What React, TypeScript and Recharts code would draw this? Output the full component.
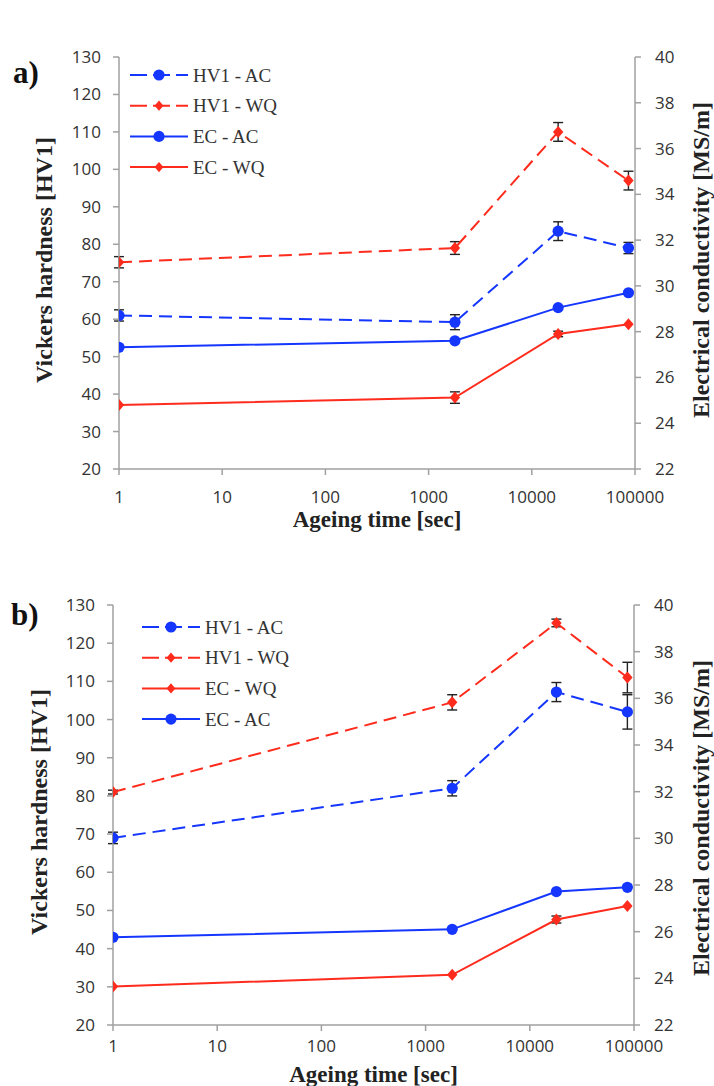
import React from 'react'
import { ErrorBar, Legend, Line, LineChart, XAxis, YAxis } from 'recharts'

// ageing times [sec]
const times = [1, 1800, 18000, 86400]
const xTicks = [1, 10, 100, 1000, 10000, 100000]
const hvTicks = [20, 30, 40, 50, 60, 70, 80, 90, 100, 110, 120, 130]
const ecTicks = [22, 24, 26, 28, 30, 32, 34, 36, 38, 40]

// panel a)
const hvAcA = [61, 59.2, 83.5, 79]
const hvAcErrA = [1.5, 2, 2.5, 1.5]
const hvWqA = [75.2, 79, 110, 97]
const hvWqErrA = [1.5, 1.7, 2.5, 2.5]
const ecAcA = [27.32, 27.6, 29.05, 29.7]
const ecAcErrA = [0, 0, 0, 0]
const ecWqA = [24.8, 25.12, 27.9, 28.32]
const ecWqErrA = [0, 0.25, 0.12, 0]

// panel b)
const hvAcB = [69, 82, 107.2, 102]
const hvAcErrB = [1.5, 2, 2.5, 4.5]
const hvWqB = [81, 104.5, 125.3, 111]
const hvWqErrB = [0.5, 2, 1, 4]
const ecWqB = [23.65, 24.15, 26.52, 27.1]
const ecWqErrB = [0, 0, 0.15, 0]
const ecAcB = [25.76, 26.1, 27.72, 27.9]
const ecAcErrB = [0, 0, 0, 0]

const BLUE = '#1536ff'
const RED = '#ff2b1c'
const AXIS = '#a0a0a0'
const SANS = '"Open Sans", "Noto Sans", sans-serif'
const SERIF = '"Liberation Serif", "DejaVu Serif", serif'

const seriesStyle: Record<string, { color: string; dashed: boolean; shape: 'circle' | 'diamond' }> = {
  hvAc: { color: BLUE, dashed: true, shape: 'circle' },
  hvWq: { color: RED, dashed: true, shape: 'diamond' },
  ecAc: { color: BLUE, dashed: false, shape: 'circle' },
  ecWq: { color: RED, dashed: false, shape: 'diamond' },
}

const names: Record<string, string> = {
  hvAc: 'HV1 - AC',
  hvWq: 'HV1 - WQ',
  ecAc: 'EC - AC',
  ecWq: 'EC - WQ',
}

function buildRows(hvAc: number[], hvAcErr: number[], hvWq: number[], hvWqErr: number[],
  ecAc: number[], ecAcErr: number[], ecWq: number[], ecWqErr: number[]) {
  return times.map((t, i) => ({
    t,
    hvAc: hvAc[i], hvAcErr: hvAcErr[i],
    hvWq: hvWq[i], hvWqErr: hvWqErr[i],
    ecAc: ecAc[i], ecAcErr: ecAcErr[i],
    ecWq: ecWq[i], ecWqErr: ecWqErr[i],
  }))
}

const rowsA = buildRows(hvAcA, hvAcErrA, hvWqA, hvWqErrA, ecAcA, ecAcErrA, ecWqA, ecWqErrA)
const rowsB = buildRows(hvAcB, hvAcErrB, hvWqB, hvWqErrB, ecAcB, ecAcErrB, ecWqB, ecWqErrB)

function Marker({ cx, cy, shape, color, size = 1 }: any) {
  if (shape === 'circle') return <circle cx={cx} cy={cy} r={5.6 * size} fill={color} />
  const w = 5.2 * size
  const h = 6 * size
  return <path d={`M${cx},${cy - h}L${cx + w},${cy}L${cx},${cy + h}L${cx - w},${cy}Z`} fill={color} />
}

const makeDot = (key: string) => (props: any) => {
  const s = seriesStyle[key]
  if (props.cx == null || props.cy == null) return <g key={`${key}-${props.index}`} />
  return (
    <g key={`${key}-${props.index}`}>
      <Marker cx={props.cx} cy={props.cy} shape={s.shape} color={s.color} />
    </g>
  )
}

// legend keeps the series order of each panel
const makeLegend = (order: string[]) => (props: any) => {
  const payload = [...(props.payload || [])].sort(
    (a: any, b: any) => order.indexOf(a.dataKey) - order.indexOf(b.dataKey))
  return (
    <svg width={200} height={135} style={{ display: 'block' }}>
      {payload.map((entry: any, i: number) => {
        const s = seriesStyle[entry.dataKey]
        const y = 12 + i * 30.7
        return (
          <g key={entry.dataKey}>
            <line x1={0} x2={58} y1={y} y2={y} stroke={s.color} strokeWidth={2}
              strokeDasharray={s.dashed ? '17 6' : undefined} />
            <Marker cx={29} cy={y} shape={s.shape} color={s.color} size={s.shape === 'circle' ? 1 : 0.85} />
            <text x={63} y={y} dy="0.35em" fontFamily={SERIF} fontSize={19} fill="#333">{entry.value}</text>
          </g>
        )
      })}
    </svg>
  )
}

interface PanelProps {
  rows: ReturnType<typeof buildRows>
  tag: string
  order: string[]
  height: number
  leftW: number
  rightW: number
  xAxisH: number
  xTickMargin: number
  legendPos: { left: number; top: number }
  leftTitle: { x: number; y: number }
  rightTitle: { x: number; y: number }
  xTitleY: number
  tagPos: { x: number; y: number }
}

function Panel(p: PanelProps) {
  const tickStyle = { fill: '#333', fontSize: 17, fontFamily: SANS }
  const axisLine = { stroke: AXIS, strokeWidth: 1.5 }
  return (
    <LineChart width={714} height={p.height} data={p.rows} margin={{ top: 57, right: 0, bottom: 0, left: 0 }}>
      <XAxis dataKey="t" type="number" scale="log" domain={[1, 100000]} ticks={xTicks} allowDataOverflow
        height={p.xAxisH} tick={tickStyle} tickSize={6} tickMargin={p.xTickMargin}
        axisLine={axisLine} tickLine={axisLine}
        label={() => (
          <g>
            <text x={(p.leftW + 714 - p.rightW) / 2} y={p.xTitleY} dy="0.35em" textAnchor="middle"
              fontFamily={SERIF} fontWeight="bold" fontSize={23} fill="#222">Ageing time [sec]</text>
            <text x={p.tagPos.x} y={p.tagPos.y} dy="0.35em" fontFamily={SERIF} fontWeight="bold"
              fontSize={31} fill="#111">{p.tag}</text>
          </g>
        )} />
      <XAxis xAxisId="top" orientation="top" dataKey="t" type="number" scale="log" domain={[1, 100000]}
        ticks={xTicks} allowDataOverflow height={0} tick={() => <g />} tickSize={6}
        axisLine={axisLine} tickLine={axisLine} />
      <YAxis yAxisId="hv" domain={[20, 130]} ticks={hvTicks} width={p.leftW} tick={tickStyle}
        tickSize={6} tickMargin={12} axisLine={axisLine} tickLine={axisLine} allowDataOverflow
        label={() => (
          <text x={p.leftTitle.x} y={p.leftTitle.y} dy="0.35em" textAnchor="middle"
            transform={`rotate(-90 ${p.leftTitle.x} ${p.leftTitle.y})`} fontFamily={SERIF}
            fontWeight="bold" fontSize={24} fill="#222">Vickers hardness [HV1]</text>
        )} />
      <YAxis yAxisId="ec" orientation="right" domain={[22, 40]} ticks={ecTicks} width={p.rightW}
        tick={tickStyle} tickSize={6} tickMargin={14} axisLine={axisLine} tickLine={axisLine} allowDataOverflow
        label={() => (
          <text x={p.rightTitle.x} y={p.rightTitle.y} dy="0.35em" textAnchor="middle"
            transform={`rotate(-90 ${p.rightTitle.x} ${p.rightTitle.y})`} fontFamily={SERIF}
            fontWeight="bold" fontSize={24} fill="#222">Electrical conductivity [MS/m]</text>
        )} />
      <Legend layout="vertical" align="center" verticalAlign="middle" content={makeLegend(p.order)}
        wrapperStyle={{ left: p.legendPos.left, top: p.legendPos.top, width: 200, height: 135 }} />
      {p.order.map((key) => {
        const s = seriesStyle[key]
        return (
          <Line key={key} yAxisId={key.startsWith('hv') ? 'hv' : 'ec'} dataKey={key} name={names[key]}
            type="linear" stroke={s.color} strokeWidth={2} strokeDasharray={s.dashed ? '13 7' : undefined}
            dot={makeDot(key)} activeDot={false} legendType="line" isAnimationActive={false}>
            <ErrorBar dataKey={`${key}Err`} direction="y" width={5} stroke="#222" strokeWidth={1.4} />
          </Line>
        )
      })}
    </LineChart>
  )
}

export default function App() {
  return (
    <div style={{ position: 'absolute', left: 0, top: 0, width: 714, height: 1086, background: '#fff', overflow: 'hidden' }}>
      <div style={{ position: 'absolute', left: 0, top: 0 }}>
        <Panel rows={rowsA} tag="a)" order={['hvAc', 'hvWq', 'ecAc', 'ecWq']} height={540}
          leftW={119} rightW={79} xAxisH={71} xTickMargin={16}
          legendPos={{ left: 130, top: 63 }} leftTitle={{ x: 44, y: 260 }} rightTitle={{ x: 701, y: 260 }}
          xTitleY={519} tagPos={{ x: 13, y: 72 }} />
      </div>
      <div style={{ position: 'absolute', left: 0, top: 548 }}>
        <Panel rows={rowsB} tag="b)" order={['hvAc', 'hvWq', 'ecWq', 'ecAc']} height={538}
          leftW={113} rightW={80} xAxisH={61} xTickMargin={9}
          legendPos={{ left: 142, top: 67 }} leftTitle={{ x: 39, y: 264 }} rightTitle={{ x: 701, y: 270 }}
          xTitleY={526} tagPos={{ x: 11, y: 66 }} />
      </div>
    </div>
  )
}
